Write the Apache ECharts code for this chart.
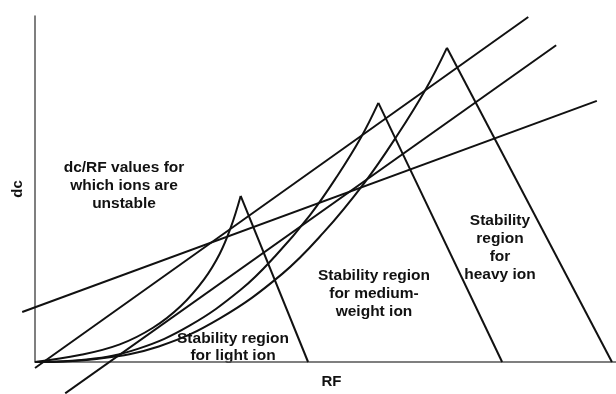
<!DOCTYPE html>
<html><head><meta charset="utf-8">
<script src="https://cdn.jsdelivr.net/npm/echarts/dist/echarts.min.js"></script>
<style>html,body{margin:0;padding:0;background:#fff}#c{width:616px;height:394px}</style>
</head><body><div id="c"></div>
<script>
// Values in arbitrary units (RF on x, dc on y)
const lightCurve  = [[0,0],[7.7,2.0],[14.6,5.1],[20.3,9.9],[25.1,16.2],[29.1,23.9],[31.8,31.3],[33.7,38.9],[35.4,48.0]];
const lightLeg    = [[35.4,48.0],[47.0,0]];
const mediumCurve = [[0,0],[8.9,0.7],[17.7,3.8],[26.6,10.5],[35.5,21.0],[41.4,30.7],[47.3,42.4],[52.0,53.7],[56.1,64.9],[59.1,74.9]];
const mediumLeg   = [[59.1,74.9],[80.4,0]];
const heavyCurve  = [[0,0],[10.6,0.9],[21.3,4.5],[31.9,12.7],[42.5,25.4],[49.6,37.3],[56.7,51.8],[62.3,65.4],[67.3,79.0],[70.9,90.8]];
const heavyLeg    = [[70.9,90.8],[99.3,0]];
const scanLineA   = [[0,0],[84.9,99.7]];
const scanLineB   = [[5.2,-7.2],[89.7,91.7]];
const scanLineC   = [[-2.2,15.9],[96.7,75.9]];

const FONT = '700 15.5px Arial, "Liberation Sans", sans-serif';
const INK = '#111';

function line(data, smooth, gridIdx) {
  return {
    type: 'line', data: data, symbol: 'none', clip: false, silent: true,
    xAxisIndex: gridIdx || 0, yAxisIndex: gridIdx || 0,
    smooth: smooth ? 0.4 : false,
    lineStyle: { color: INK, width: 2 }, animation: false
  };
}
const hiddenAxis = { show: false, axisLine: { show: false }, axisTick: { show: false }, axisLabel: { show: false }, splitLine: { show: false } };

const chart = echarts.init(document.getElementById('c'), null, { renderer: 'canvas' });
chart.setOption({
  animation: false,
  grid: [
    { left: 35, right: 0, top: 16, bottom: 26 },
    { left: 0, right: 0, top: 16, bottom: 26 }
  ],
  xAxis: [{
    type: 'value', min: 0, max: 100, gridIndex: 0,
    name: 'RF', nameLocation: 'middle', nameGap: 12,
    nameTextStyle: { fontFamily: 'Arial, "Liberation Sans", sans-serif', fontWeight: 'bold', fontSize: 15, color: INK, padding: [0,0,0,12] },
    axisLine: { show: true, lineStyle: { color: '#555', width: 1.5 } },
    axisTick: { show: false }, axisLabel: { show: false }, splitLine: { show: false }
  }, Object.assign({ type: 'value', gridIndex: 1, min: -35 * 100 / 581, max: 100 }, hiddenAxis)],
  yAxis: [{
    type: 'value', min: 0, max: 100, gridIndex: 0,
    name: 'dc', nameLocation: 'middle', nameGap: 10, nameRotate: 90,
    nameTextStyle: { fontFamily: 'Arial, "Liberation Sans", sans-serif', fontWeight: 'bold', fontSize: 15, color: INK },
    axisLine: { show: true, lineStyle: { color: '#555', width: 1.5 } },
    axisTick: { show: false }, axisLabel: { show: false }, splitLine: { show: false }
  }, Object.assign({ type: 'value', gridIndex: 1, min: 0, max: 100 }, hiddenAxis)],
  series: [
    line(scanLineA, false, 1), line(scanLineB, false, 1), line(scanLineC, false, 1),
    line(lightCurve, true), line(lightLeg, false),
    line(mediumCurve, true), line(mediumLeg, false),
    line(heavyCurve, true), line(heavyLeg, false)
  ],
  graphic: [
    { type: 'text', x: 124, y: 159, style: { text: 'dc/RF values for\nwhich ions are\nunstable', font: FONT, fill: INK, align: 'center', textAlign: 'center', verticalAlign: 'top', textVerticalAlign: 'top', lineHeight: 18 } },
    { type: 'text', x: 233, y: 330, style: { text: 'Stability region\nfor light ion', font: FONT, fill: INK, align: 'center', textAlign: 'center', verticalAlign: 'top', textVerticalAlign: 'top', lineHeight: 17 } },
    { type: 'text', x: 374, y: 267, style: { text: 'Stability region\nfor medium-\nweight ion', font: FONT, fill: INK, align: 'center', textAlign: 'center', verticalAlign: 'top', textVerticalAlign: 'top', lineHeight: 18 } },
    { type: 'text', x: 500, y: 212, style: { text: 'Stability\nregion\nfor\nheavy ion', font: FONT, fill: INK, align: 'center', textAlign: 'center', verticalAlign: 'top', textVerticalAlign: 'top', lineHeight: 18 } }
  ]
});
</script>
</body></html>
